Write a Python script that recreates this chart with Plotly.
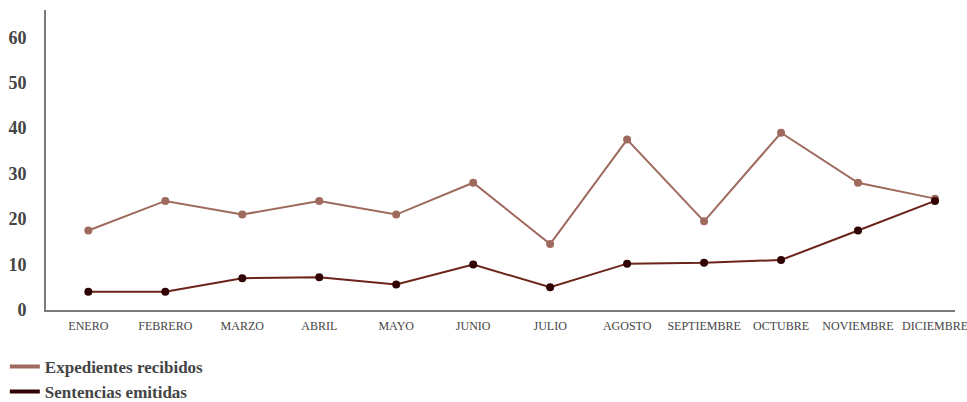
import plotly.graph_objects as go

meses = ["ENERO", "FEBRERO", "MARZO", "ABRIL", "MAYO", "JUNIO", "JULIO",
         "AGOSTO", "SEPTIEMBRE", "OCTUBRE", "NOVIEMBRE", "DICIEMBRE"]
expedientes = [17.5, 24, 21, 24, 21, 28, 14.5, 37.5, 19.5, 39, 28, 24.5]
sentencias = [4, 4, 7, 7.2, 5.6, 10, 5, 10.2, 10.4, 11, 17.5, 24]
y_ticks = [0, 10, 20, 30, 40, 50, 60]

c_exp = "#9e6a5d"
c_sen_line = "#6a2419"
c_sen_mark = "#300404"
serif = "Liberation Serif"

fig = go.Figure()
fig.add_trace(go.Scatter(x=meses, y=expedientes, mode="lines+markers",
                         line=dict(color=c_exp, width=2),
                         marker=dict(color=c_exp, size=8),
                         showlegend=False, cliponaxis=False))
fig.add_trace(go.Scatter(x=meses, y=sentencias, mode="lines+markers",
                         line=dict(color=c_sen_line, width=2),
                         marker=dict(color=c_sen_mark, size=8),
                         showlegend=False, cliponaxis=False))
# legend entries
fig.add_trace(go.Scatter(x=[None], y=[None], mode="lines", name="Expedientes recibidos",
                         line=dict(color=c_exp, width=4)))
fig.add_trace(go.Scatter(x=[None], y=[None], mode="lines", name="Sentencias emitidas",
                         line=dict(color=c_sen_mark, width=4)))

fig.update_layout(
    width=967, height=402,
    font=dict(family=serif),
    margin=dict(l=46, r=12, t=10, b=92, autoexpand=False),
    plot_bgcolor="white", paper_bgcolor="white",
    legend=dict(xref="container", yref="container", x=0.005, y=0.132,
                xanchor="left", yanchor="top", orientation="v",
                font=dict(family=serif, size=17, color="#444", weight="bold"),
                tracegroupgap=0, itemwidth=30),
    xaxis=dict(type="category", categoryorder="array", categoryarray=meses,
               range=[-0.55, 11.26], showgrid=False, zeroline=False,
               showline=True, linecolor="#7a7a7a", linewidth=2,
               ticks="", ticklabelstandoff=4, tickangle=0, automargin=False,
               tickfont=dict(family=serif, size=12, color="#444")),
    yaxis=dict(range=[0, 66], tickvals=y_ticks, showgrid=False, zeroline=False,
               showline=True, linecolor="#7a7a7a", linewidth=2,
               ticks="", ticklabelstandoff=14, automargin=False,
               tickfont=dict(family=serif, size=18, color="#444", weight="bold")),
)

fig.write_html("out.html")
